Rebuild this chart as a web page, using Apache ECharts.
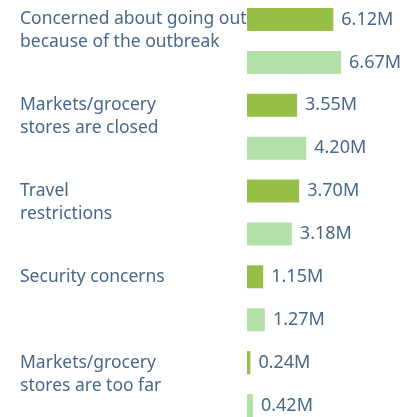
<!DOCTYPE html>
<html>
<head>
<meta charset="utf-8">
<script src="https://cdn.jsdelivr.net/npm/echarts@6/dist/echarts.min.js"></script>
<style>
  html, body { margin: 0; padding: 0; background: #fff; overflow: hidden; }
  #chart { width: 405px; height: 431px; margin-top: -2px; }
</style>
</head>
<body>
<div id="chart"></div>
<script>
// reasons, top to bottom
const categories = [
  'Concerned about going out\nbecause of the outbreak',
  'Markets/grocery\nstores are closed',
  'Travel\nrestrictions',
  'Security concerns',
  'Markets/grocery\nstores are too far'
]
// millions, upper (dark) bar and lower (light) bar of each pair
const darkValues = [6.12, 3.55, 3.70, 1.15, 0.24]
const lightValues = [6.67, 4.20, 3.18, 1.27, 0.42]

const textColor = '#48688a'
const fontFamily = '"Noto Sans", sans-serif'

let chart = echarts.init(document.getElementById('chart'))

let valueLabel = {
  show: true,
  position: 'right',
  distance: 8,
  color: textColor,
  fontFamily: fontFamily,
  fontSize: 18,
  formatter: function(p) {
    return p.value.toFixed(2) + 'M'
  }
}

chart.setOption({
  animation: false,
  grid: {
    left: 247,
    top: 0,
    width: 141,
    height: 429
  },
  xAxis: {
    type: 'value',
    min: 0,
    max: 10,
    show: false
  },
  yAxis: {
    type: 'category',
    inverse: true,
    data: categories,
    axisLine: { show: false },
    axisTick: { show: false },
    axisLabel: {
      align: 'left',
      margin: 227,
      verticalAlign: 'middle',
      // pad every label to two lines plus a spacer so line one sits on the dark bar
      formatter: function(v) {
        let lines = v.split('\n')
        if (lines.length < 2) lines.push(' ')
        return lines.map(function(l) { return '{t|' + l + '}' }).join('\n') + '\n{s| }'
      },
      rich: {
        t: {
          color: textColor,
          fontFamily: fontFamily,
          fontSize: 17.5,
          lineHeight: 23
        },
        s: {
          fontSize: 10,
          height: 20,
          lineHeight: 20
        }
      }
    }
  },
  series: [
    {
      name: 'dark',
      type: 'bar',
      data: darkValues,
      barWidth: 23,
      barGap: '87%',
      itemStyle: { color: '#97bf47' },
      label: valueLabel
    },
    {
      name: 'light',
      type: 'bar',
      data: lightValues,
      barWidth: 23,
      itemStyle: { color: '#b3e0a6' },
      label: valueLabel
    }
  ]
})
</script>
</body>
</html>
